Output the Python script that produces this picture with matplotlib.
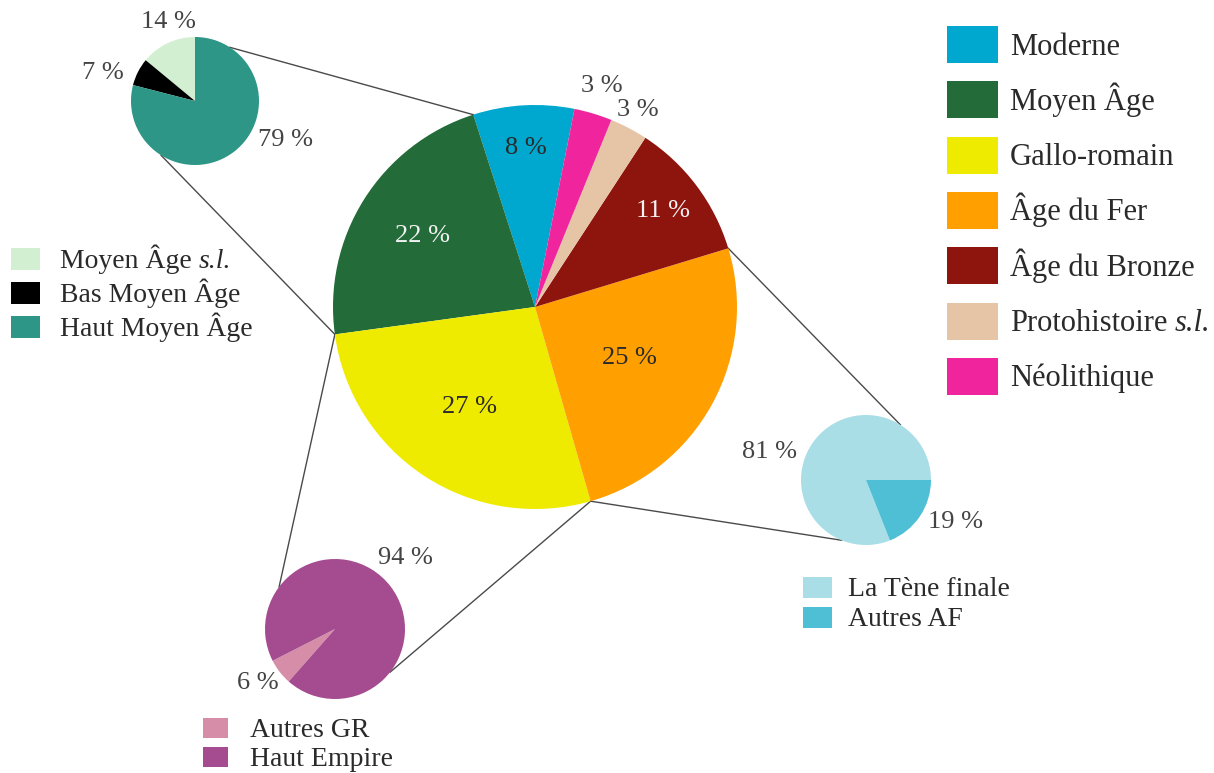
import numpy as np
import matplotlib.pyplot as plt
from matplotlib.patches import Rectangle

W, H = 1214, 773

# main pie: periods (legend order = counter-clockwise order from Moderne)
# a label is (regular part, italic part)
periods = [("Moderne", ""), ("Moyen Âge", ""), ("Gallo-romain", ""), ("Âge du Fer", ""),
           ("Âge du Bronze", ""), ("Protohistoire", "s.l."), ("Néolithique", "")]
period_shares = [8, 22, 27, 25, 11, 3, 3]
period_colors = ["#00a8cf", "#236b38", "#efeb00", "#ff9f00", "#8e140e", "#e5c5a5", "#f0249c"]

# Moyen Âge detail
ma_labels = [("Moyen Âge", "s.l."), ("Bas Moyen Âge", ""), ("Haut Moyen Âge", "")]
ma_shares = [14, 7, 79]
ma_colors = ["#d3efd1", "#000000", "#2d9687"]

# Âge du Fer detail
af_labels = [("La Tène finale", ""), ("Autres AF", "")]
af_shares = [81, 19]
af_colors = ["#a9dee6", "#4fbfd6"]

# Gallo-romain detail
gr_labels = [("Autres GR", ""), ("Haut Empire", "")]
gr_shares = [6, 94]
gr_colors = ["#d58da8", "#a54c90"]

plt.rcParams['font.family'] = ['Liberation Serif', 'DejaVu Serif']

TXT = '#2a2a2a'
LINE = '#4a4a4a'


def fy(py):
    # pixel row (from top) -> data y
    return H - py


def rim(center, r, ang):
    a = np.radians(ang)
    return center[0] + r * np.cos(a), center[1] + r * np.sin(a)


def draw_pie(ax, values, colors, center, radius, start):
    wedges, _ = ax.pie(values, colors=colors, startangle=start, counterclock=True,
                       center=center, radius=radius, frame=False,
                       wedgeprops=dict(linewidth=0))
    return wedges


def draw_key(ax, labels, colors, x, y0, step, w, h, text_x, fs):
    renderer = ax.figure.canvas.get_renderer()
    cap = 0.66 * fs * 100 / 72
    for i, ((lab, ital), col) in enumerate(zip(labels, colors)):
        yc = fy(y0 + i * step)
        ax.add_patch(Rectangle((x, yc - h / 2), w, h, facecolor=col, edgecolor='none'))
        t = ax.text(text_x, yc - cap / 2, lab, fontsize=fs, color=TXT,
                    va='baseline', ha='left')
        if ital:
            x1 = t.get_window_extent(renderer).x1
            ax.text(x1 + 0.25 * fs * 100 / 72, yc - cap / 2, ital, fontsize=fs,
                    style='italic', color=TXT, va='baseline', ha='left')


fig = plt.figure(figsize=(W / 100, H / 100), dpi=100)
ax = fig.add_axes([0, 0, 1, 1])
ax.set_xlim(0, W)
ax.set_ylim(0, H)

# main pie
main_c, main_r = (535, fy(307)), 202
start = 107.8 - period_shares[0] / sum(period_shares) * 360
main_w = draw_pie(ax, period_shares, period_colors, main_c, main_r, start)

label_dist = [0.79, 0.66, 0.59, 0.53, 0.79, 1.10, 1.14]
label_col = [TXT, '#f2f2f2', TXT, TXT, '#f2f2f2', '#444444', '#444444']
for w, v, d, c in zip(main_w, period_shares, label_dist, label_col):
    mid = (w.theta1 + w.theta2) / 2
    x, y = rim(main_c, main_r * d, mid)
    ax.text(x, y, f"{v} %", fontsize=19, color=c, ha='center', va='center')

# detail pies
ma_c, ma_r = (195, fy(101)), 64
af_c, af_r = (866, fy(480)), 65
gr_c, gr_r = (335, fy(629)), 70
draw_pie(ax, ma_shares, ma_colors, ma_c, ma_r, 90)
draw_pie(ax, af_shares, af_colors, af_c, af_r, 0)
draw_pie(ax, gr_shares, gr_colors, gr_c, gr_r, 207)

# connector lines from main wedge boundaries to detail pies
p_ma_top = rim(main_c, main_r, main_w[1].theta1)
p_ma_gr = rim(main_c, main_r, main_w[1].theta2)
p_gr_af = rim(main_c, main_r, main_w[2].theta2)
p_af_top = rim(main_c, main_r, main_w[3].theta2)
links = [
    (p_ma_top, rim(ma_c, ma_r, 57)),
    (p_ma_gr, rim(ma_c, ma_r, -122)),
    (p_ma_gr, rim(gr_c, gr_r, 143)),
    (p_gr_af, rim(gr_c, gr_r, -38)),
    (p_af_top, rim(af_c, af_r, 58)),
    (p_gr_af, rim(af_c, af_r, -112)),
]
for a, b in links:
    ax.plot([a[0], b[0]], [a[1], b[1]], color=LINE, lw=1.0, zorder=0.5)

# detail pie labels
detail_labels = [
    (ma_shares[0], 168, 22), (ma_shares[1], 103, 73), (ma_shares[2], 285, 140),
    (af_shares[0], 770, 452), (af_shares[1], 955, 522),
    (gr_shares[0], 258, 683), (gr_shares[1], 405, 558),
]
for v, px, py in detail_labels:
    ax.text(px, fy(py), f"{v} %", fontsize=19, color='#444444', ha='center', va='center')

# pie() resets limits, so set them again before measuring legend text
ax.set_xlim(0, W)
ax.set_ylim(0, H)
ax.set_aspect('equal')
ax.axis('off')

# legends
draw_key(ax, periods, period_colors, 947, 44.5, 55.3, 51, 37, 1010, 22)
draw_key(ax, ma_labels, ma_colors, 11, 259, 34, 29, 22, 60, 20)
draw_key(ax, af_labels, af_colors, 803, 587, 30, 29, 21, 848, 20)
draw_key(ax, gr_labels, gr_colors, 203, 728, 29, 25, 20, 250, 20)

fig.savefig('out.png', dpi=100, facecolor='white')
